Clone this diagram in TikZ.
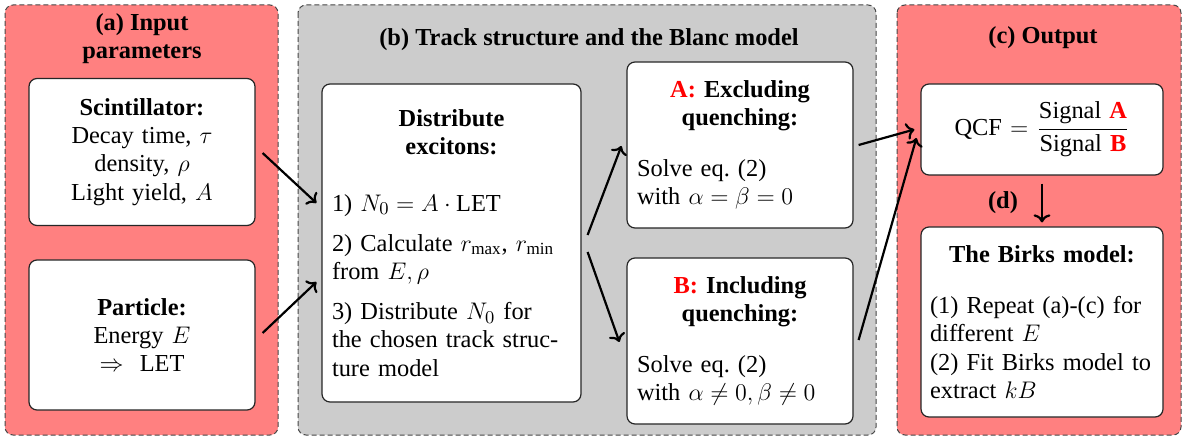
\documentclass[tikz,border=0pt]{standalone}
\usepackage{amsmath}
\usepackage{fontspec}
\setmainfont{Liberation Serif}
\usetikzlibrary{arrows.meta,calc}
\definecolor{panelred}{RGB}{255,128,128}
\definecolor{panelgray}{RGB}{204,204,204}
\definecolor{dashgray}{RGB}{70,70,70}
\frenchspacing

\begin{document}
\begin{tikzpicture}[x=0.5pt,y=-0.5pt,>=To]
\tikzset{
  panel/.style={draw=dashgray,line width=0.5pt,dash pattern=on 2.5pt off 1.5pt,rounded corners=4pt},
  infobox/.style={draw=black!85,line width=0.6pt,fill=white,rounded corners=4pt,
               inner xsep=5pt,inner ysep=0pt,align=left,font=\fontsize{12.2}{14.1}\selectfont},
  paneltitle/.style={font=\fontsize{12.2}{14.1}\selectfont\bfseries,align=center,inner sep=0pt},
  flow/.style={->,line width=1.1pt}
}
\useasboundingbox (0,0) rectangle (1186,437);
% panels
\filldraw[panel,fill=panelred] (5,5) rectangle (278,435);
\filldraw[panel,fill=panelgray] (298,5) rectangle (876,435);
\filldraw[panel,fill=panelred] (897,5) rectangle (1181,435);
\node[paneltitle] (titleA) at (142,39) {(a) Input\\parameters};
\node[paneltitle] (titleB) at (589,40) {(b) Track structure and the Blanc model};
\node[paneltitle] (titleC) at (1043,38) {(c) Output};
% (a) inputs
\node[infobox,align=center,text width=103pt,minimum width=113pt,minimum height=73.5pt] (scint) at (142,152)
  {\textbf{Scintillator:}\\Decay time, $\tau$\\density, $\rho$\\Light yield, $A$};
\node[infobox,align=center,text width=103pt,minimum width=113pt,minimum height=75pt] (particle) at (142,335)
  {\textbf{Particle:}\\Energy $E$\\$\Rightarrow$\ \ LET};
% (b) track structure
\node[infobox,text width=119.5pt,minimum width=129.5pt,minimum height=159pt] (dist) at (451.5,243)
  {{\centering\bfseries Distribute\\excitons:\par}\vspace{14pt}
   1) $N_0 = A\cdot\mathrm{LET}$\par\vspace{6pt}
   2) Calculate $r_{\max}$, $r_{\min}$\\from $E,\rho$\par\vspace{6pt}
   3) Distribute $N_0$ for\\the chosen track struc-\\ture model};
\node[infobox,text width=103pt,minimum width=113pt,minimum height=83pt] (boxA) at (740,145)
  {{\centering\bfseries\textcolor{red}{A:} Excluding\\quenching:\par}\vspace{11.5pt}
   Solve eq.\ (2)\\with $\alpha=\beta=0$};
\node[infobox,text width=103pt,minimum width=113pt,minimum height=83pt] (boxB) at (740,341)
  {{\centering\bfseries\textcolor{red}{B:} Including\\quenching:\par}\vspace{11.5pt}
   Solve eq.\ (2)\\with $\alpha\neq0,\beta\neq0$};
% (c) output and (d)
\node[infobox,align=center,text width=111pt,minimum width=121pt,minimum height=45.5pt] (qcf) at (1042,129.5)
  {QCF $=$ $\dfrac{\text{Signal \textcolor{red}{\textbf{A}}}}{\text{Signal \textcolor{red}{\textbf{B}}}}$};
\node[infobox,text width=114pt,inner xsep=3.5pt,minimum width=121pt,minimum height=95pt] (birks) at (1042,322)
  {{\centering\bfseries The Birks model:\par}\vspace{11.5pt}
   \hspace*{1pt}(1) Repeat (a)-(c) for\\\hspace*{1pt}different $E$\\\hspace*{1pt}(2) Fit Birks model to\\\hspace*{1pt}extract $kB$};
\node[paneltitle] (labelD) at (1003,203) {(d)};
% connectors
\draw[flow] ($(scint.east)+(7,1)$) -- ($(dist.west)+(-5,-40)$);
\draw[flow] ($(particle.east)+(7,-2)$) -- ($(dist.west)+(-5,39)$);
\draw[flow] ($(dist.east)+(6,-8)$) -- ($(boxA.west)+(-5,1)$);
\draw[flow] ($(dist.east)+(6,9)$) -- ($(boxB.west)+(-7,1)$);
\draw[flow] ($(boxA.east)+(5,0)$) -- ($(qcf.west)+(-6,0)$);
\draw[flow] ($(boxB.east)+(5,-1)$) -- ($(qcf.west)+(-4,8.5)$);
\draw[flow] ($(qcf.south)+(0,8)$) -- ($(birks.north)+(0,-4)$);
\end{tikzpicture}
\end{document}
